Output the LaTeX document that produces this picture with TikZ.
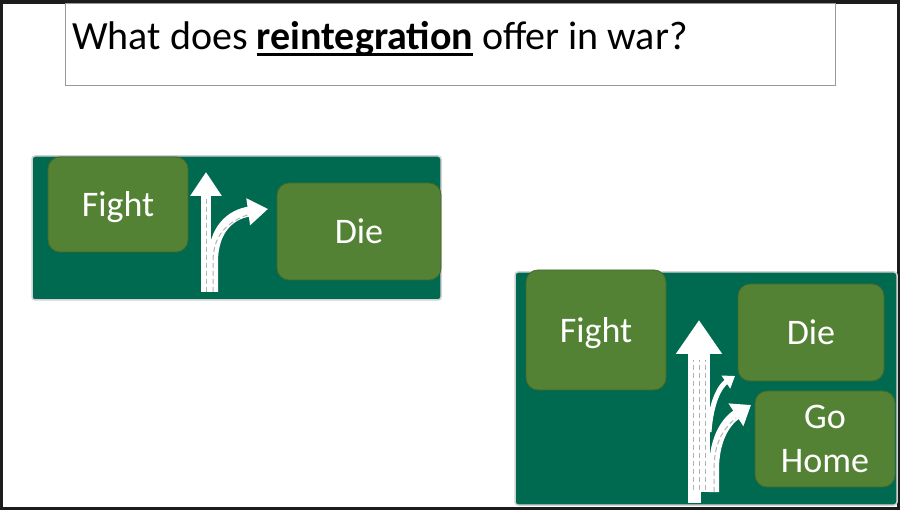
\documentclass[tikz,border=0pt]{standalone}
\usepackage{fontspec}
\setmainfont{Carlito}
\usetikzlibrary{arrows.meta, positioning}
\definecolor{signgreen}{RGB}{0,106,80}
\definecolor{boxgreen}{RGB}{84,130,53}
\definecolor{framegray}{RGB}{28,28,28}
\newsavebox\wordbox
\newcommand\uword[1]{\sbox\wordbox{#1}\rlap{\rule[-6pt]{\wd\wordbox}{2.5pt}}\usebox\wordbox}
\tikzset{
	choice/.style={fill=boxgreen, draw=boxgreen!80!black, line width=0.8pt, rounded corners=12pt,
		text=white, font=\fontsize{36}{44}\selectfont, inner sep=0pt, align=center},
	word/.style={choice, text depth=0pt},
	sign/.style={fill=signgreen, draw=gray!35, line width=1.5pt, rounded corners=3pt},
	road/.style={white, line cap=butt},
	lane/.style={gray!60, line width=1pt, dash pattern=on 5pt off 3pt}
}

\begin{document}
\begin{tikzpicture}[x=1pt, y=-1pt]
	% frame
	\fill[framegray] (0,0) rectangle (900,510);
	\fill[white] (3,4) rectangle (897,507);
	\useasboundingbox (0,0) rectangle (900,510);
	
	% title
	\draw[gray!80, line width=1pt] (65,4) rectangle (835,86);
	\node[anchor=base west, inner sep=0pt, font=\fontsize{40}{48}\selectfont] (title) at (72,50)
		{What does \uword{\textbf{reintegration}} offer in war?};
	
	% first sign
	\draw[sign] (32,156) rectangle (441,300);
	\node[word, minimum width=140pt, minimum height=95pt] (fightA) at (118,204.5) {Fight};
	\node[word, minimum width=164pt, minimum height=97pt] (dieA) at (359,231.5) {Die};
	
	\coordinate (baseA) at (206,292);
	\coordinate (forkA) at (213,292);
	\coordinate (tipA) at (206,172);
	\coordinate (turnA) at (268,209);
	\draw[road, line width=10pt, -{Triangle[width=30pt,length=24pt]}] (baseA) -- (tipA);
	\draw[road, line width=10pt, -{Triangle[width=26pt,length=20pt]}] (forkA) -- (213,262)
		.. controls (213,228) and (232,214) .. (turnA);
	\draw[lane] (baseA) -- (206,198);
	\draw[lane] (forkA) -- (213,262) .. controls (213,236) and (226,222) .. (250,214);
	
	% second sign
	\draw[sign] (515,272) rectangle (897,505);
	\node[word, minimum width=140pt, minimum height=120pt] (fightB) at (596,330) {Fight};
	\node[word, minimum width=146pt, minimum height=97pt] (dieB) at (811,332.5) {Die};
	\node[choice, minimum width=140pt, minimum height=96pt] (homeB) at (825,439) {Go\\Home};
	
	\coordinate (baseB) at (701,492);
	\coordinate (tipB) at (699,320);
	\coordinate (forkB) at (714,492);
	\coordinate (dieTip) at (735,376);
	\coordinate (homeTip) at (751,405);
	\draw[road, line width=22pt, -{Triangle[width=44pt,length=34pt]}] (baseB) -- (tipB |- baseB) -- (tipB);
	\draw[road, line width=5pt, -{Triangle[width=15pt,length=11pt]}] (709,432)
		.. controls (711,402) and (720,386) .. (dieTip);
	\draw[road, line width=10pt, -{Triangle[width=26pt,length=18pt]}] (forkB) -- (714,470)
		.. controls (714,436) and (728,420) .. (homeTip);
	\foreach \x in {693,699,705}
		\draw[lane] (\x,490) -- (\x,360);
	\draw[lane] (forkB) -- (714,470) .. controls (714,444) and (722,430) .. (736,418);
\end{tikzpicture}
\end{document}
